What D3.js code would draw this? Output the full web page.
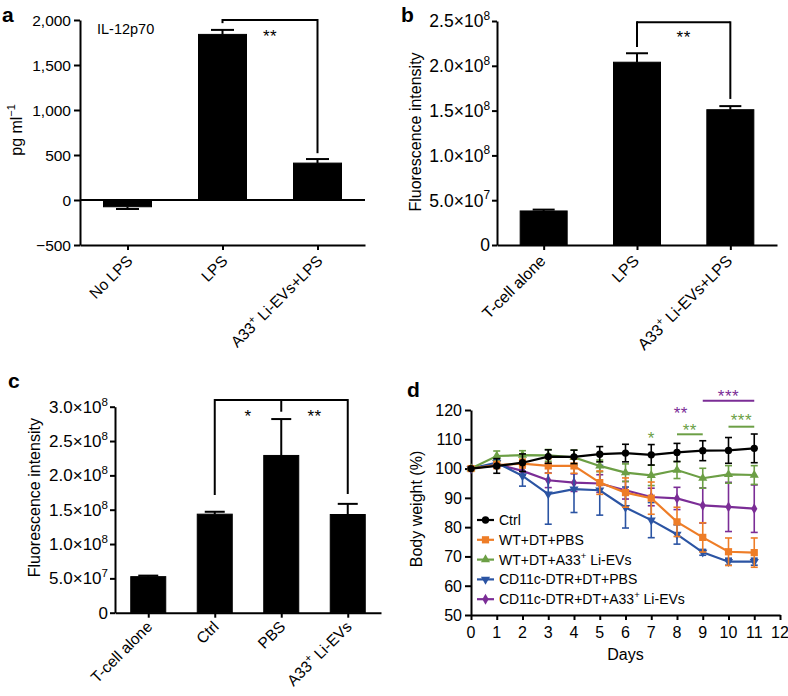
<!DOCTYPE html>
<html><head><meta charset="utf-8">
<script src="https://cdn.jsdelivr.net/npm/d3@7/dist/d3.min.js"></script>
<style>
body{margin:0;background:#fff}
svg{display:block}
text{font-family:"Liberation Sans",Arial,Helvetica,sans-serif;fill:#000}
</style>
</head><body>
<svg id="fig" width="788" height="696"></svg>
<script>
// ---------- DATA ----------
// Panel a: IL-12p70 (pg/ml)
const catsA = ["No LPS", "LPS", "A33{+} Li-EVs+LPS"];
const valsA = [-75, 1840, 410];
const errsA = [25, 50, 45];
const ticksA = [-500, 0, 500, 1000, 1500, 2000];
const tickLabelsA = ["\u2212500", "0", "500", "1,000", "1,500", "2,000"];

// Panel b: fluorescence intensity
const catsB = ["T-cell alone", "LPS", "A33{+} Li-EVs+LPS"];
const valsB = [3.8e7, 2.04e8, 1.51e8];
const errsB = [0.15e7, 0.1e8, 0.04e8];
const ticksB = [0, 5e7, 1e8, 1.5e8, 2e8, 2.5e8];

// Panel c: fluorescence intensity
const catsC = ["T-cell alone", "Ctrl", "PBS", "A33{+} Li-EVs"];
const valsC = [5.25e7, 1.435e8, 2.29e8, 1.43e8];
const errsC = [0.15e7, 0.035e8, 0.53e8, 0.155e8];
const ticksC = [0, 5e7, 1e8, 1.5e8, 2e8, 2.5e8, 3e8];

// Panel d: body weight (%)
const days = [0,1,2,3,4,5,6,7,8,9,10,11];
const dayTicks = [0,1,2,3,4,5,6,7,8,9,10,11,12];
const weightTicks = [50,60,70,80,90,100,110,120];
const ctrlW      = [100,100.9,102,104.1,104,104.9,105.3,104.7,105.5,106.1,106.2,106.9];
const ctrlE      = [0,2.5,3,2.3,2.3,2.6,3,3.5,3.1,3.4,4.4,4.9];
const wtPbsW     = [100,101.2,101.7,100.9,100.9,95.2,91.8,89.9,81.8,76.5,71.6,71.3];
const wtPbsE     = [0,1.2,1.5,2.5,2.5,4,5,5.5,5,5,4.7,5];
const wtEvW      = [100,104.3,104.6,104.5,103.8,100.9,98.6,97.7,99.5,96.7,98.0,97.8];
const wtEvE      = [0,1.7,1.5,2,2.5,2,3,3.5,2.9,3.4,3,3.2];
const dtrPbsW    = [100,102,97.5,91.3,93,92.6,86.7,82.4,77.5,71.4,68.2,68.2];
const dtrPbsE    = [0,1.2,3.5,10.3,8,8.5,7,6,3.3,1,1.2,1.2];
const dtrEvW     = [100,101.5,99.2,96,95.2,94.9,92.6,90.3,89.8,87.4,86.9,86.3];
const dtrEvE     = [0,1.2,1.5,2.5,3,3,3,3,3.8,6,8.4,8.1];
const seriesNames = ["Ctrl","WT+DT+PBS","WT+DT+A33{+} Li-EVs","CD11c-DTR+DT+PBS","CD11c-DTR+DT+A33{+} Li-EVs"];

// ---------- HELPERS ----------
const svg = d3.select("#fig");
const COLORS = ["#000000","#ee7d27","#6c9f45","#2b54a3","#7b2d96"];

function rich(t, str, fs) {
  const parts = str.split(/\{([^}]*)\}/);
  let up = false;
  parts.forEach((p, i) => {
    if (p === "") return;
    const ts = t.append("tspan").text(p);
    if (i % 2 === 1) { ts.attr("font-size", fs * 0.68).attr("dy", -fs * 0.42); up = true; }
    else if (up) { ts.attr("dy", fs * 0.42); up = false; }
  });
}
function sciFmt(v) {
  if (v === 0) return "0";
  const e = Math.floor(Math.log10(v));
  const m = v / Math.pow(10, e);
  return m.toFixed(1) + "\u00d710{" + e + "}";
}
function styleAxis(g) {
  g.select(".domain").attr("stroke", "#000").attr("stroke-width", 2);
  g.selectAll(".tick line").attr("stroke", "#000").attr("stroke-width", 2);
  g.selectAll(".tick text").remove();
}

function barPanel(o) {
  const g = svg.append("g");
  const y = d3.scaleLinear().domain(o.yDomain).range([o.bottom, o.top]);
  const x = d3.scalePoint().domain(o.cats).range([o.left, o.right]).padding(0.5);
  const ya = g.append("g").attr("transform", `translate(${o.left},0)`)
    .call(d3.axisLeft(y).tickValues(o.ticks).tickSize(o.tickSize).tickSizeOuter(0));
  styleAxis(ya);
  o.ticks.forEach((t, i) => {
    const tx = g.append("text").attr("x", o.left - o.tickSize - o.tickPad).attr("y", y(t) + o.tickFs * 0.36)
      .attr("text-anchor", "end").attr("font-size", o.tickFs);
    rich(tx, o.tickLabels[i], o.tickFs);
  });
  const xa = g.append("g").attr("transform", `translate(0,${o.bottom})`)
    .call(d3.axisBottom(x).tickSize(5).tickSizeOuter(0));
  styleAxis(xa);
  if (o.zeroLine) {
    g.append("line").attr("x1", o.left).attr("x2", o.right).attr("y1", y(0)).attr("y2", y(0))
      .attr("stroke", "#000").attr("stroke-width", 2);
  }
  o.cats.forEach(c => {
    const t = g.append("text").attr("font-size", o.catFs).attr("text-anchor", "end")
      .attr("transform", `translate(${x(c) + o.labDx},${o.bottom + o.labDy}) rotate(-45)`);
    rich(t, c, o.catFs);
  });
  o.vals.forEach((v, i) => {
    const c = o.cats[i];
    g.append("rect").attr("x", x(c) - o.bw / 2).attr("width", o.bw)
      .attr("y", Math.min(y(v), y(0))).attr("height", Math.abs(y(v) - y(0)))
      .attr("fill", "#000").attr("stroke", "#000").attr("stroke-width", 1);
    const e = o.errs[i];
    const yEnd = v >= 0 ? y(v + e) : y(v - e);
    g.append("line").attr("x1", x(c)).attr("x2", x(c)).attr("y1", y(v)).attr("y2", yEnd)
      .attr("stroke", "#000").attr("stroke-width", 2);
    g.append("line").attr("x1", x(c) - o.capW / 2).attr("x2", x(c) + o.capW / 2).attr("y1", yEnd).attr("y2", yEnd)
      .attr("stroke", "#000").attr("stroke-width", 2);
  });
  o.brackets.forEach(b => {
    const pts = b.ends;
    g.append("line").attr("x1", x(o.cats[pts[0][0]])).attr("x2", x(o.cats[pts[pts.length - 1][0]]))
      .attr("y1", y(b.top)).attr("y2", y(b.top)).attr("stroke", "#000").attr("stroke-width", 2);
    pts.forEach(p => {
      g.append("line").attr("x1", x(o.cats[p[0]])).attr("x2", x(o.cats[p[0]]))
        .attr("y1", y(b.top) - 1).attr("y2", y(p[1])).attr("stroke", "#000").attr("stroke-width", 2);
    });
    b.labels.forEach(l => {
      const cx = (x(o.cats[l.from]) + x(o.cats[l.to])) / 2;
      g.append("text").attr("x", cx).attr("y", y(b.top) + l.dy).attr("text-anchor", "middle")
        .attr("font-size", 17).attr("letter-spacing", 0.5).text(l.text);
    });
  });
  const yt = g.append("text").attr("text-anchor", "middle").attr("font-size", 16)
    .attr("transform", `translate(${o.titleX},${(o.top + o.bottom) / 2 + o.titleDy}) rotate(-90)`);
  rich(yt, o.title, 16);
  g.append("text").attr("x", o.letterX).attr("y", o.letterY).attr("font-size", 21).attr("font-weight", "bold").text(o.letter);
  return { g, x, y };
}

// ---------- PANEL a ----------
const pa = barPanel({
  cats: catsA, vals: valsA, errs: errsA, yDomain: [-500, 2000],
  top: 20, bottom: 245, left: 80, right: 365,
  ticks: ticksA, tickLabels: tickLabelsA, tickSize: 6, tickPad: 3, tickFs: 15.5,
  zeroLine: true, bw: 48, capW: 23, catFs: 15.5, labDx: 6, labDy: 17,
  brackets: [{ top: 2000, ends: [[1, 1965], [2, 520]], labels: [{ from: 1, to: 2, text: "**", dy: 22 }] }],
  title: "pg ml{\u22121}", titleX: 22, titleDy: -2.5, letter: "a", letterX: 2, letterY: 22
});
pa.g.append("text").attr("x", 97).attr("y", 33.5).attr("font-size", 14.5).text("IL-12p70");

// ---------- PANEL b ----------
barPanel({
  cats: catsB, vals: valsB, errs: errsB, yDomain: [0, 2.5e8],
  top: 21, bottom: 245, left: 497, right: 777,
  ticks: ticksB, tickLabels: ticksB.map(sciFmt), tickSize: 5, tickPad: 2, tickFs: 17.5,
  zeroLine: false, bw: 47, capW: 22, catFs: 16, labDx: 3, labDy: 17,
  brackets: [{ top: 2.485e8, ends: [[1, 2.21e8], [2, 1.63e8]], labels: [{ from: 1, to: 2, text: "**", dy: 21 }] }],
  title: "Fluorescence intensity", titleX: 421, titleDy: -1, letter: "b", letterX: 401, letterY: 22
});

// ---------- PANEL c ----------
barPanel({
  cats: catsC, vals: valsC, errs: errsC, yDomain: [0, 3e8],
  top: 406.7, bottom: 612.7, left: 115, right: 381,
  ticks: ticksC, tickLabels: ticksC.map(sciFmt), tickSize: 5, tickPad: 2, tickFs: 17,
  zeroLine: false, bw: 35, capW: 20, catFs: 15.5, labDx: 5, labDy: 15,
  brackets: [{ top: 3.097e8, ends: [[1, 1.714e8], [2, 2.927e8], [3, 1.729e8]],
    labels: [{ from: 1, to: 2, text: "*", dy: 22 }, { from: 2, to: 3, text: "**", dy: 22 }] }],
  title: "Fluorescence intensity", titleX: 39.5, titleDy: -12, letter: "c", letterX: 8, letterY: 388
});

// ---------- PANEL d ----------
(function () {
  const g = svg.append("g");
  const x = d3.scaleLinear().domain([0, 12]).range([471, 780]);
  const y = d3.scaleLinear().domain([50, 120]).range([615, 410]);
  const ya = g.append("g").attr("transform", "translate(471,0)")
    .call(d3.axisLeft(y).tickValues(weightTicks).tickSize(6).tickSizeOuter(0));
  styleAxis(ya);
  weightTicks.forEach(t => g.append("text").attr("x", 462).attr("y", y(t) + 5.8)
    .attr("text-anchor", "end").attr("font-size", 16).text(t));
  const xa = g.append("g").attr("transform", "translate(0,615)")
    .call(d3.axisBottom(x).tickValues(dayTicks).tickSize(5).tickSizeOuter(0));
  styleAxis(xa);
  dayTicks.forEach(t => g.append("text").attr("x", x(t)).attr("y", 638)
    .attr("text-anchor", "middle").attr("font-size", 16).text(t));
  g.append("text").attr("x", x(6)).attr("y", 660).attr("text-anchor", "middle").attr("font-size", 16).text("Days");
  g.append("text").attr("text-anchor", "middle").attr("font-size", 16)
    .attr("transform", `translate(422,509) rotate(-90)`).text("Body weight (%)");
  g.append("text").attr("x", 407).attr("y", 397).attr("font-size", 21).attr("font-weight", "bold").text("d");

  const vals = [ctrlW, wtPbsW, wtEvW, dtrPbsW, dtrEvW];
  const errs = [ctrlE, wtPbsE, wtEvE, dtrPbsE, dtrEvE];
  const syms = [
    { t: d3.symbolCircle, s: 42, r: 0 },
    { t: d3.symbolSquare, s: 52, r: 0 },
    { t: d3.symbolTriangle, s: 36, r: 0 },
    { t: d3.symbolTriangle, s: 36, r: 180 },
    { t: d3.symbolDiamond, s: 34, r: 0 }
  ];
  const line = d3.line().x((d, i) => x(days[i])).y(d => y(d));
  const order = [4, 3, 2, 1, 0];
  order.forEach(k => {
    const col = COLORS[k];
    const sg = g.append("g");
    vals[k].forEach((v, i) => {
      const e = errs[k][i];
      if (e <= 0) return;
      const cx = x(days[i]);
      sg.append("line").attr("x1", cx).attr("x2", cx).attr("y1", y(v - e)).attr("y2", y(v + e))
        .attr("stroke", col).attr("stroke-width", 1.6);
      [v - e, v + e].forEach(w => sg.append("line").attr("x1", cx - 3.5).attr("x2", cx + 3.5)
        .attr("y1", y(w)).attr("y2", y(w)).attr("stroke", col).attr("stroke-width", 1.6));
    });
    sg.append("path").datum(vals[k]).attr("d", line).attr("fill", "none").attr("stroke", col).attr("stroke-width", 2.2);
    vals[k].forEach((v, i) => {
      sg.append("path").attr("d", d3.symbol().type(syms[k].t).size(syms[k].s)())
        .attr("transform", `translate(${x(days[i])},${y(v)}) rotate(${syms[k].r})`).attr("fill", col);
    });
  });
  seriesNames.forEach((n, k) => {
    const ly = 520 + k * 19.8;
    g.append("line").attr("x1", 477).attr("x2", 494).attr("y1", ly).attr("y2", ly)
      .attr("stroke", COLORS[k]).attr("stroke-width", 2.2);
    g.append("path").attr("d", d3.symbol().type(syms[k].t).size(syms[k].s)())
      .attr("transform", `translate(485.5,${ly}) rotate(${syms[k].r})`).attr("fill", COLORS[k]);
    const t = g.append("text").attr("x", 499).attr("y", ly + 5).attr("font-size", 14);
    rich(t, n, 14);
  });
  const sigLines = [
    { x1: 9, x2: 11, v: 123.2, col: COLORS[4] },
    { x1: 10, x2: 11, v: 114.3, col: COLORS[2] },
    { x1: 8, x2: 9, v: 111.7, col: COLORS[2] }
  ];
  const sigTexts = [
    { x: 10, v: 125.9, text: "***", col: COLORS[4] },
    { x: 8.15, v: 120.2, text: "**", col: COLORS[4] },
    { x: 10.5, v: 117.7, text: "***", col: COLORS[2] },
    { x: 8.5, v: 114.3, text: "**", col: COLORS[2] },
    { x: 7, v: 111.8, text: "*", col: COLORS[2] }
  ];
  sigLines.forEach(s => g.append("line").attr("x1", x(s.x1)).attr("x2", x(s.x2))
    .attr("y1", y(s.v)).attr("y2", y(s.v)).attr("stroke", s.col).attr("stroke-width", 2));
  sigTexts.forEach(s => g.append("text").attr("x", x(s.x)).attr("y", y(s.v) + 9.7)
    .attr("text-anchor", "middle").attr("font-size", 17).attr("letter-spacing", 0.5)
    .style("fill", s.col).text(s.text));
})();
</script>
</body></html>
